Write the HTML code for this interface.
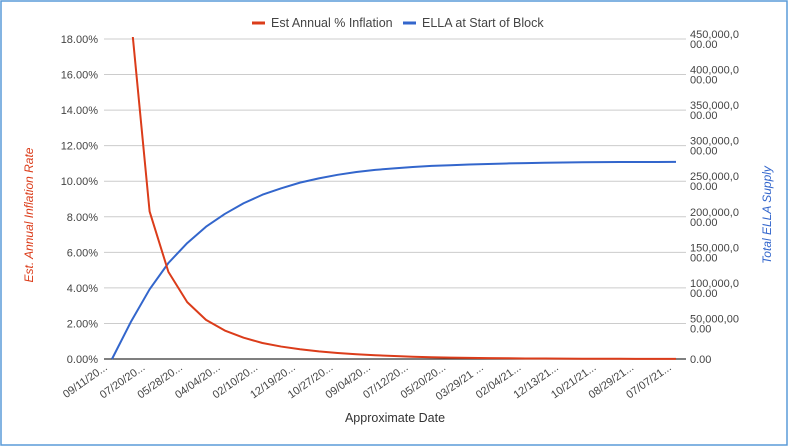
<!DOCTYPE html>
<html><head><meta charset="utf-8"><style>
body{margin:0;background:#fff}
svg{display:block;font-family:"Liberation Sans",Arial,sans-serif}
</style></head><body>
<svg id="chart" width="791" height="448" viewBox="0 0 791 448">
<rect x="1" y="1" width="786" height="444" fill="#fff" stroke="#5a9bd8" stroke-width="1.5"/>
<g id="grid"></g>
<g id="leftTicks"></g>
<g id="rightTicks"></g>
<g id="xTicks"></g>
<line x1="104" y1="359" x2="686" y2="359" stroke="#333" stroke-width="1.2"/>
<defs><clipPath id="plotClip"><rect x="100" y="37" width="590" height="326"/></clipPath></defs>
<g id="series" clip-path="url(#plotClip)"></g>
<g>
<g><line x1="252" y1="23" x2="265" y2="23" stroke="#db3c1a" stroke-width="3"/><text x="271" y="27" font-size="12.5" fill="#444">Est Annual % Inflation</text></g>
<g><line x1="403" y1="23" x2="416" y2="23" stroke="#3366cc" stroke-width="3"/><text x="422" y="27" font-size="12.5" fill="#444">ELLA at Start of Block</text></g>
</g>
<text transform="translate(33,215) rotate(-90)" text-anchor="middle" font-size="12" font-style="italic" fill="#db3c1a">Est. Annual Inflation Rate</text>
<text transform="translate(771,215) rotate(-90)" text-anchor="middle" font-size="12" font-style="italic" fill="#3366cc">Total ELLA Supply</text>
<text x="395" y="422" text-anchor="middle" font-size="12.5" fill="#333">Approximate Date</text>
</svg>
<script>
const xLabels=["09/11/20...","07/20/20...","05/28/20...","04/04/20...","02/10/20...","12/19/20...","10/27/20...","09/04/20...","07/12/20...","05/20/20...","03/29/21 ...","02/04/21...","12/13/21...","10/21/21...","08/29/21...","07/07/21..."];
const leftTicks=[0,2,4,6,8,10,12,14,16,18];
const rightTickTop=["0.00","50,000,00","100,000,0","150,000,0","200,000,0","250,000,0","300,000,0","350,000,0","400,000,0","450,000,0"];
const rightTickBottom=["","0.00","00.00","00.00","00.00","00.00","00.00","00.00","00.00","00.00"];
const inflation=[null,19.3,8.3,4.9,3.2,2.2,1.6,1.2,0.9,0.7,0.55,0.43,0.34,0.27,0.21,0.17,0.13,0.1,0.08,0.06,0.05,0.04,0.03,0.025,0.02,0.016,0.013,0.011,0.01,0.009,0.008];
const supply=[0,52,98,135,163,186,204,219,231,240,248,254,259,263,266,268,270,271.5,272.5,273.5,274.3,275,275.5,276,276.3,276.6,276.8,277,277,277.1,277.2];
const NS='http://www.w3.org/2000/svg';
const x0=112,x1=676,yB=359,yT=39;
const xs=i=>x0+i*(x1-x0)/(supply.length-1);
const yL=v=>yB-(v/18)*(yB-yT);
const yR=v=>yB-(v/450)*(yB-yT);
function mk(tag,attrs,parent,txt){const e=document.createElementNS(NS,tag);for(const k in attrs)e.setAttribute(k,attrs[k]);if(txt!==undefined)e.textContent=txt;document.getElementById(parent).appendChild(e);return e;}
leftTicks.forEach((v,i)=>{
  const y=yL(v);
  if(v>0){const g=mk('line',{x1:104,y1:y,x2:686,y2:y,stroke:'#ccc','stroke-width':1},'grid');
  
  }
  const t=mk('text',{x:98,y:y+4,'text-anchor':'end','font-size':11,fill:'#444'},'leftTicks',v.toFixed(2)+'%');
  
  
});
rightTickTop.forEach((s,i)=>{
  const y=yR(i*50);
  const t=mk('text',{x:690,y:rightTickBottom[i]?y-1:y+4,'font-size':11,fill:'#444'},'rightTicks');
  
  
  const a=document.createElementNS(NS,'tspan');a.setAttribute('x',690);a.textContent=s;t.appendChild(a);
  if(rightTickBottom[i]){const b=document.createElementNS(NS,'tspan');b.setAttribute('x',690);b.setAttribute('dy',10);b.textContent=rightTickBottom[i];t.appendChild(b);}
});
xLabels.forEach((s,i)=>{
  const x=xs(i*2)-4;
  const t=mk('text',{transform:`translate(${x},369) rotate(-35)`,'text-anchor':'end','font-size':11,fill:'#444'},'xTicks',s);
  
  
});
let d='';supply.forEach((v,i)=>{d+=(i?'L':'M')+xs(i)+','+yR(v);});
const p2=mk('path',{d:d,fill:'none',stroke:'#3366cc','stroke-width':2,'stroke-linejoin':'round'},'series');


let d1='',started=false;inflation.forEach((v,i)=>{if(v===null)return;d1+=(started?'L':'M')+xs(i)+','+yL(v);started=true;});
const p1=mk('path',{d:d1,fill:'none',stroke:'#db3c1a','stroke-width':2,'stroke-linejoin':'round'},'series');


</script>
</body></html>
